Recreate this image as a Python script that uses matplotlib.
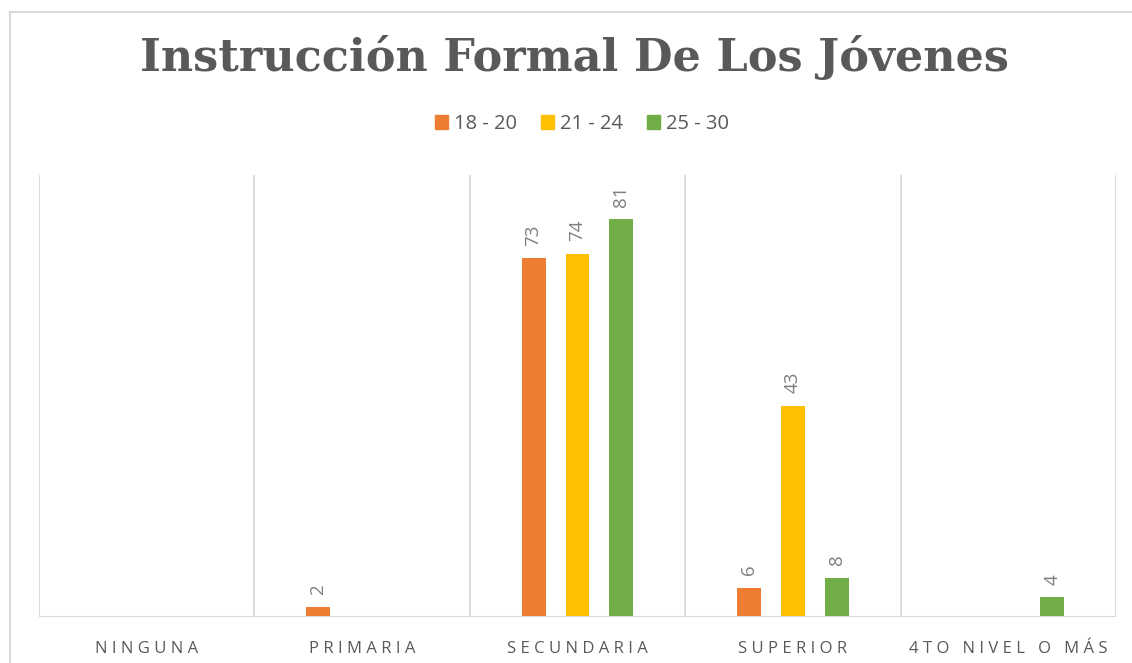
import numpy as np
import matplotlib.pyplot as plt
from matplotlib.lines import Line2D
from matplotlib.patches import Rectangle

categories = ['NINGUNA', 'PRIMARIA', 'SECUNDARIA', 'SUPERIOR', '4TO NIVEL O MÁS']
series_names = ['18 - 20', '21 - 24', '25 - 30']
v_18_20 = [0, 2, 73, 6, 0]
v_21_24 = [0, 0, 74, 43, 0]
v_25_30 = [0, 0, 81, 8, 4]
colors = ['#ED7D31', '#FFC000', '#70AD47']

grey = '#595959'
grid_c = '#D9D9D9'


def spaced(s, sep='\u2009'):
    # fake letter spacing
    return sep.join(list(s))


fig = plt.figure(figsize=(11.32, 6.63), dpi=100)
ax = fig.add_axes([39 / 1132, 1 - 617 / 663, (1116 - 39) / 1132, (617 - 175) / 663])

x = np.arange(len(categories))
w = 0.111
off = 0.204
for i, vals in enumerate([v_18_20, v_21_24, v_25_30]):
    pos = x + (i - 1) * off
    ax.bar(pos, vals, width=w, color=colors[i], zorder=3)
    for p, v in zip(pos, vals):
        if v > 0:
            ax.annotate(str(v), (p, v), xytext=(0, 9), textcoords='offset points',
                        rotation=90, ha='center', va='bottom', fontsize=13.5,
                        color='#7F7F7F', family=['Open Sans', 'DejaVu Sans'])

ax.set_xlim(-0.5, 4.5)
ax.set_ylim(0, 90)
for b in np.arange(-0.5, 5, 1):
    ax.axvline(b, color=grid_c, lw=1.3, zorder=1)
ax.axhline(0, color=grid_c, lw=1.5, zorder=4)
for s in ax.spines.values():
    s.set_visible(False)
ax.set_yticks([])
ax.set_xticks(x)
ax.set_xticklabels([spaced(c, '\u2009\u200a') for c in categories], fontsize=12, color=grey,
                   family=['Open Sans', 'DejaVu Sans'])
ax.tick_params(axis='x', length=0, pad=17)

# title
fig.text(575 / 1132, 1 - 57 / 663, 'Instrucción Formal De Los Jóvenes',
         ha='center', va='center', fontsize=32, fontweight='bold', color=grey,
         family=['DejaVu Serif'])

# legend
handles = [Rectangle((0, 0), 1, 1, color=c) for c in colors]
fig.legend(handles, series_names, loc='center', bbox_to_anchor=(582 / 1132, 1 - 124 / 663),
           ncol=3, frameon=False, handlelength=0.65, handleheight=0.65,
           handletextpad=0.3, columnspacing=1.2, prop={'family': 'Open Sans', 'size': 14.5},
           labelcolor=grey)

# chart border
fig.add_artist(Line2D([10 / 1132, 1], [1 - 12 / 663] * 2, color=grid_c, lw=1.5))
fig.add_artist(Line2D([10 / 1132] * 2, [0, 1 - 12 / 663], color=grid_c, lw=1.5))

fig.savefig('out.png', dpi=100)
